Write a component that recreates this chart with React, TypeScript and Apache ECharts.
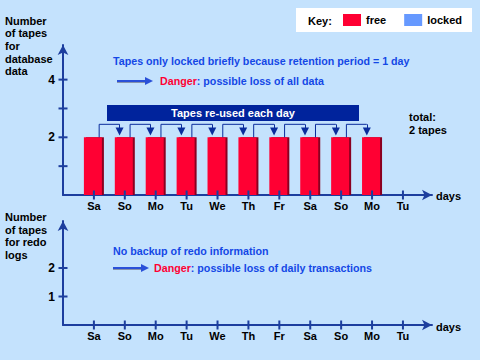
import React, { useEffect, useRef } from 'react';
import * as echarts from 'echarts';

const days = ['Sa', 'So', 'Mo', 'Tu', 'We', 'Th', 'Fr', 'Sa', 'So', 'Mo', 'Tu'];
const freeTapesDb = [2, 2, 2, 2, 2, 2, 2, 2, 2, 2];
const lockedTapesDb: number[] = [];
const dbTickValues = [1, 2, 3, 4];
const dbLabelValues = [2, 4];
const redoTickValues = [1, 2];
const redoLabelValues = [1, 2];

const BG = '#C4E2FD';
const AXIS = '#1D3E9E';
const BLUE_TXT = '#1448E6';
const RED = '#FF0033';
const FONT = '"Liberation Sans", Arial, sans-serif';

export default function App() {
  const ref = useRef<HTMLDivElement>(null);
  useEffect(() => {
    if (!ref.current) return;
    const chart = echarts.init(ref.current, undefined, { renderer: 'svg' });

    const dayLabel = (v: number) => {
      if (Math.abs(v - Math.round(v)) > 1e-6) return '';
      const i = Math.round(v) - 1;
      return i >= 0 && i < days.length ? days[i] : '';
    };

    const xAxisCommon = (gridIndex: number) => ({
      type: 'value',
      gridIndex,
      min: 0,
      max: 11.94,
      interval: 1,
      splitLine: { show: false },
      axisTick: { show: false },
      axisLine: {
        show: true,
        symbol: ['none', 'arrow'],
        symbolSize: [8, 10],
        lineStyle: { color: AXIS, width: 2 },
      },
      axisLabel: {
        formatter: dayLabel,
        color: '#000',
        fontWeight: 'bold',
        fontSize: 11,
        fontFamily: FONT,
        margin: 5,
        showMaxLabel: false,
      },
    });

    const yAxisCommon = (gridIndex: number, max: number, labels: number[]) => ({
      type: 'value',
      gridIndex,
      min: 0,
      max,
      interval: 1,
      splitLine: { show: false },
      axisTick: { show: false },
      axisLine: {
        show: true,
        symbol: ['none', 'arrow'],
        symbolSize: [8, 10],
        lineStyle: { color: AXIS, width: 2 },
      },
      axisLabel: {
        formatter: (v: number) => (labels.includes(v) ? String(v) : ''),
        color: '#000',
        fontWeight: 'bold',
        fontSize: 12,
        fontFamily: FONT,
        margin: 8,
        showMaxLabel: false,
      },
    });

    const upAcross = freeTapesDb.slice(0, -1).map((v, i) => {
      const a = i + 1 + 0.17;
      const b = i + 2 - 0.17;
      return {
        coords: [
          [a, v],
          [a, v + 0.45],
          [b, v + 0.45],
        ],
      };
    });
    const down = freeTapesDb.slice(0, -1).map((v, i) => {
      const b = i + 2 - 0.17;
      return { coords: [[b, v + 0.45], [b, v + 0.2]] };
    });

    const xTicks = days.map((_, i) => [i + 1, 0]);

    const tickSeries = (xi: number, data: number[][], size: number[]) => ({
      type: 'scatter',
      xAxisIndex: xi,
      yAxisIndex: xi,
      data,
      symbol: 'rect',
      symbolSize: size,
      clip: false,
      silent: true,
      itemStyle: { color: AXIS, opacity: 1 },
      z: 5,
    });

    const txt = (x: number, y: number, text: string, extra: any = {}) => ({
      type: 'text',
      x,
      y,
      z: 100,
      style: {
        text,
        font: `bold 11px ${FONT}`,
        fill: '#000',
        verticalAlign: 'middle',
        ...extra,
      },
    });

    const arrow = (x1: number, x2: number, y: number) => ({
      type: 'group',
      children: [
        { type: 'line', shape: { x1, y1: y + 1.5, x2: x2 - 5, y2: y + 1.5 }, style: { stroke: '#8592ad', lineWidth: 1 } },
        { type: 'line', shape: { x1, y1: y, x2: x2 - 5, y2: y }, style: { stroke: '#2a50d8', lineWidth: 2 } },
        { type: 'polygon', shape: { points: [[x2 - 8, y - 4], [x2, y], [x2 - 8, y + 4]] }, style: { fill: '#2a50d8' } },
      ],
    });

    const danger = (x: number, y: number, rest: string) => ({
      type: 'text',
      x,
      y,
      z: 100,
      style: {
        text: `{r|Danger}{b|${rest}}`,
        verticalAlign: 'middle',
        rich: {
          r: { fill: RED, font: `bold 10.7px ${FONT}` },
          b: { fill: BLUE_TXT, font: `bold 10.7px ${FONT}` },
        },
      },
    });

    chart.setOption({
      animation: false,
      backgroundColor: BG,
      grid: [
        { left: 63, top: 45, width: 369, height: 150 },
        { left: 63, top: 221, width: 369, height: 104 },
      ],
      xAxis: [xAxisCommon(0), xAxisCommon(1)],
      yAxis: [yAxisCommon(0, 5.2, dbLabelValues), yAxisCommon(1, 3.65, redoLabelValues)],
      legend: {
        left: 296,
        top: 8,
        backgroundColor: '#fff',
        padding: [6, 10, 6, 47],
        itemWidth: 18,
        itemHeight: 12,
        itemGap: 18,
        icon: 'rect',
        data: ['free', 'locked'],
        textStyle: { color: '#000', fontWeight: 'bold', fontSize: 11, fontFamily: FONT },
        z: 10,
      },
      series: [
        {
          name: 'free',
          type: 'bar',
          stack: 'db',
          xAxisIndex: 0,
          yAxisIndex: 0,
          barWidth: 18,
          barGap: '-88.9%',
          data: freeTapesDb.map((v, i) => [i + 1, v]),
          itemStyle: { color: RED },
          z: 3,
        },
        {
          name: 'locked',
          type: 'bar',
          stack: 'db',
          xAxisIndex: 0,
          yAxisIndex: 0,
          barWidth: 18,
          barGap: '-88.9%',
          data: lockedTapesDb,
          itemStyle: { color: '#6699FF' },
          z: 3,
        },
        {
          name: 'edge',
          type: 'bar',
          xAxisIndex: 0,
          yAxisIndex: 0,
          barWidth: 18,
          barGap: '-88.9%',
          data: freeTapesDb.map((v, i) => [i + 1, v]),
          itemStyle: { color: '#8a0020' },
          silent: true,
          z: 2,
        },
        {
          type: 'lines',
          coordinateSystem: 'cartesian2d',
          xAxisIndex: 0,
          yAxisIndex: 0,
          polyline: true,
          lineStyle: { color: '#0a2c9c', width: 1, opacity: 1 },
          data: upAcross,
          silent: true,
          z: 4,
        },
        {
          type: 'lines',
          coordinateSystem: 'cartesian2d',
          xAxisIndex: 0,
          yAxisIndex: 0,
          symbol: ['none', 'triangle'],
          symbolSize: 8,
          lineStyle: { color: '#0a2c9c', width: 1, opacity: 1 },
          data: down,
          silent: true,
          z: 4,
        },
        tickSeries(0, xTicks, [2, 9]),
        tickSeries(1, xTicks, [2, 9]),
        tickSeries(0, dbTickValues.map((v) => [0, v]), [9, 2]),
        tickSeries(1, redoTickValues.map((v) => [0, v]), [9, 2]),
      ],
      graphic: [
        txt(5, 46, 'Number\nof tapes\nfor\ndatabase\ndata', { lineHeight: 12.7 }),
        txt(5, 236, 'Number\nof tapes\nfor redo\nlogs', { lineHeight: 12.7 }),
        txt(308, 21, 'Key:'),
        txt(113, 61, 'Tapes only locked briefly because retention period = 1 day', { fill: BLUE_TXT, font: `bold 10.7px ${FONT}` }),
        arrow(117, 153, 81),
        danger(160, 81, ': possible loss of all data'),
        { type: 'rect', z: 50, shape: { x: 107, y: 105, width: 252, height: 16 }, style: { fill: '#00239C' } },
        txt(233, 113, 'Tapes re-used each day', { fill: '#fff', align: 'center' }),
        txt(409, 123, 'total:\n2 tapes', { lineHeight: 13 }),
        txt(436, 196, 'days'),
        txt(436, 327, 'days'),
        txt(113, 251, 'No backup of redo information', { fill: BLUE_TXT, font: `bold 10.7px ${FONT}` }),
        arrow(113, 149, 268),
        danger(154, 268, ': possible loss of daily transactions'),
      ],
    });
    return () => chart.dispose();
  }, []);
  return <div ref={ref} style={{ position: 'fixed', left: 0, top: 0, width: 480, height: 360 }} />;
}
